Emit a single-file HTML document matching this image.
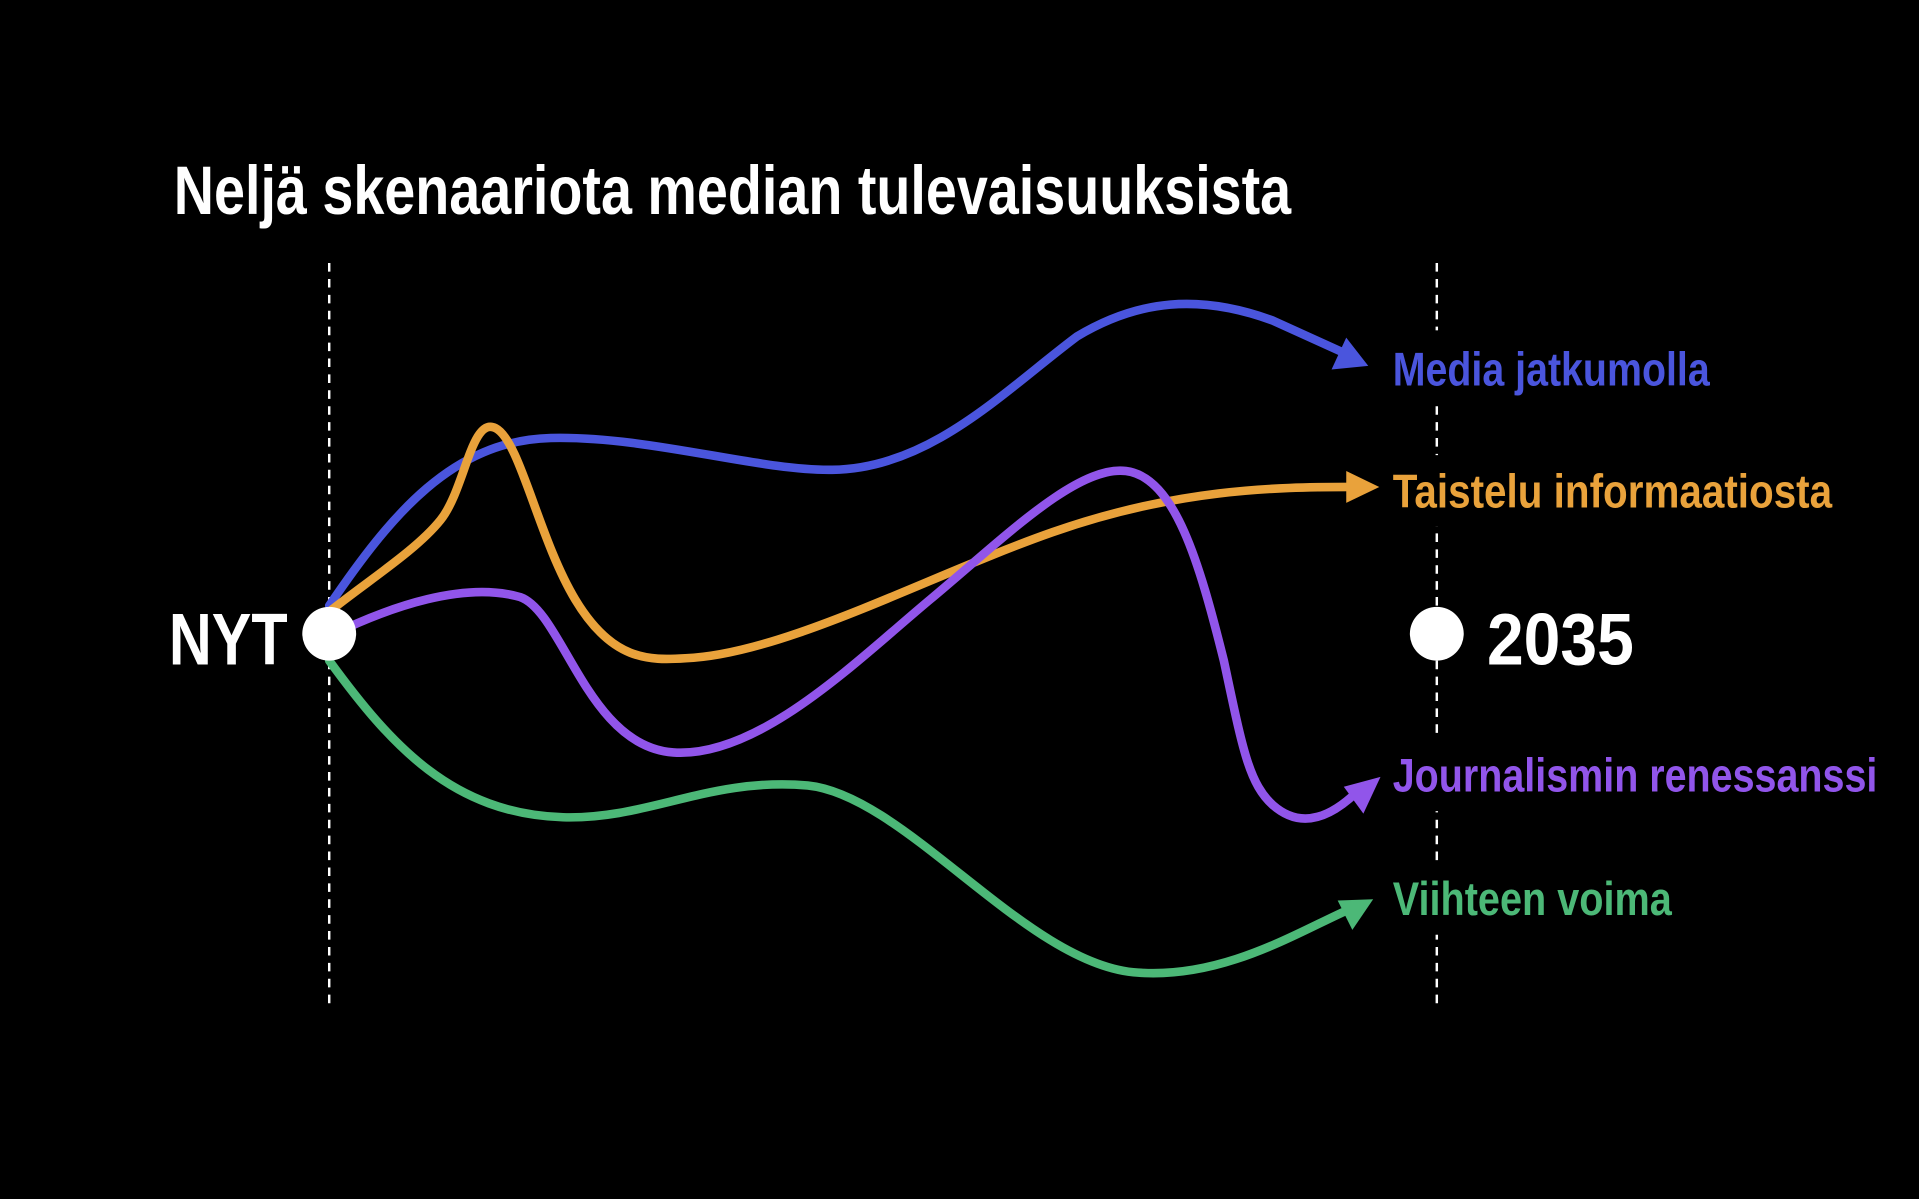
<!DOCTYPE html>
<html><head><meta charset="utf-8"><style>
html,body{margin:0;padding:0;background:#000;width:1919px;height:1199px;overflow:hidden}
svg{display:block}
text{font-family:"Liberation Sans Narrow","Liberation Sans",sans-serif;font-weight:bold}
</style></head><body>
<svg width="1919" height="1199" viewBox="0 0 1568 980" preserveAspectRatio="none">
<rect width="1568" height="980" fill="#000"/>
<text x="142" y="175" font-size="56" fill="#fff" textLength="913" lengthAdjust="spacingAndGlyphs">Neljä skenaariota median tulevaisuuksista</text>
<line x1="269" y1="215" x2="269" y2="820" stroke="#fff" stroke-width="2" stroke-dasharray="7,6"/>
<line x1="1174" y1="215" x2="1174" y2="820" stroke="#fff" stroke-width="2" stroke-dasharray="7,6"/>
<g fill="none" stroke-width="7" stroke-linecap="round">
<path d="M269,495 C320,420 370,360 450,358 C530,356 620,385 680,384 C760,383 820,320 880,275 C930,245 980,240 1040,262 L1095,287" stroke="#4a55dd"/>
<path d="M269,500 C300,475 340,450 360,425 C380,400 385,340 405,350 C425,360 440,440 470,490 C500,540 530,540 560,538 C640,535 760,470 860,435 C960,400 1040,398 1105,398" stroke="#e9a23b"/>
<path d="M269,520 C320,495 380,475 425,488 C460,500 480,610 550,615 C620,620 700,540 760,490 C820,440 880,380 920,385 C960,390 980,460 1000,540 C1015,610 1020,640 1040,658 C1065,680 1090,665 1108,648" stroke="#9155ea"/>
<path d="M269,540 C320,610 370,665 460,668 C530,670 580,635 660,642 C740,650 840,790 930,795 C1000,800 1060,762 1103,743" stroke="#4cb877"/>
</g>
<polygon points="1118,299 1088,302 1100,276" fill="#4a55dd"/>
<polygon points="1127,398 1100,385 1100,411" fill="#e9a23b"/>
<polygon points="1128,635 1098,643 1114,665" fill="#9155ea"/>
<polygon points="1122,735 1093,736 1105,760" fill="#4cb877"/>
<rect x="1134" y="270" width="270" height="60" fill="#000"/>
<rect x="1134" y="372" width="370" height="58" fill="#000"/>
<rect x="1134" y="603" width="405" height="60" fill="#000"/>
<rect x="1134" y="706" width="240" height="58" fill="#000"/>
<text x="1138" y="315" font-size="39" fill="#4a55dd" textLength="259" lengthAdjust="spacingAndGlyphs">Media jatkumolla</text>
<text x="1138" y="415" font-size="39" fill="#e9a23b" textLength="359" lengthAdjust="spacingAndGlyphs">Taistelu informaatiosta</text>
<text x="1138" y="647" font-size="39" fill="#9155ea" textLength="396" lengthAdjust="spacingAndGlyphs">Journalismin renessanssi</text>
<text x="1138" y="748" font-size="39" fill="#4cb877" textLength="228" lengthAdjust="spacingAndGlyphs">Viihteen voima</text>
<circle cx="269" cy="518" r="22" fill="#fff"/>
<circle cx="1174" cy="518" r="22" fill="#fff"/>
<text x="138" y="543" font-size="60" fill="#fff" textLength="97" lengthAdjust="spacingAndGlyphs">NYT</text>
<text x="1215" y="543" font-size="60" fill="#fff" textLength="120" lengthAdjust="spacingAndGlyphs">2035</text>
</svg>
</body></html>
